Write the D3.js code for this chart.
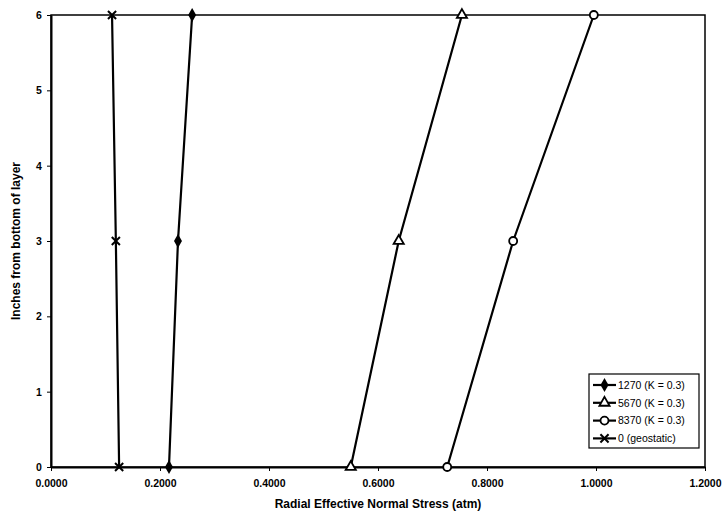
<!DOCTYPE html>
<html><head><meta charset="utf-8">
<script src="https://cdn.jsdelivr.net/npm/d3@7"></script>
<style>body{margin:0;background:#fff}text{font-family:"Liberation Sans",Arial,sans-serif;fill:#000}</style>
</head><body><svg id="c" width="725" height="518"></svg>
<script>
const depths = [0, 3, 6];
const s1270 = [0.2165, 0.233, 0.259];
const s5670 = [0.550, 0.638, 0.754];
const s8370 = [0.727, 0.848, 0.996];
const sGeo = [0.125, 0.119, 0.112];
const seriesNames = ["1270 (K = 0.3)", "5670 (K = 0.3)", "8370 (K = 0.3)", "0 (geostatic)"];
const markerTypes = ["diamond", "triangle", "circle", "x"];
const xTicks = [0, 0.2, 0.4, 0.6, 0.8, 1.0, 1.2];
const yTicks = [0, 1, 2, 3, 4, 5, 6];

const svg = d3.select("#c");
const L = 51, R = 705, T = 15, B = 467;
const x = d3.scaleLinear().domain([0, 1.2]).range([L, R]);
const y = d3.scaleLinear().domain([0, 6]).range([B, T]);

svg.append("rect").attr("x", L).attr("y", T).attr("width", R - L).attr("height", B - T)
  .attr("fill", "none").attr("stroke", "#000").attr("stroke-width", 1.5);

const xa = svg.append("g").attr("transform", `translate(0,${B})`)
  .call(d3.axisBottom(x).tickValues(xTicks).tickFormat(d3.format(".4f")).tickSize(4).tickSizeOuter(0));
xa.select(".domain").attr("stroke-width", 2);
xa.selectAll("text").attr("font-size", 10.5).style("font-weight", "bold").attr("dy", "1.25em");
const ya = svg.append("g").attr("transform", `translate(${L},0)`)
  .call(d3.axisLeft(y).tickValues(yTicks).tickFormat(d3.format("d")).tickSize(4).tickSizeOuter(0));
ya.select(".domain").attr("stroke-width", 2);
ya.selectAll("text").attr("font-size", 10.5).style("font-weight", "bold").attr("dx", "-0.2em");

svg.append("text").attr("x", x(0.6)).attr("y", 508).attr("text-anchor", "middle")
  .attr("font-size", 12).style("font-weight", "bold").text("Radial Effective Normal Stress (atm)");
svg.append("text").attr("transform", `translate(20,${y(3)}) rotate(-90)`).attr("text-anchor", "middle")
  .attr("font-size", 12).style("font-weight", "bold").text("Inches from bottom of layer");

const allSeries = [s1270, s5670, s8370, sGeo];
const line = d3.line().x(d => x(d[0])).y(d => y(d[1]));

function marker(g, type, cx, cy) {
  if (type === "diamond") {
    g.append("path").attr("d", d3.symbol(d3.symbolDiamond, 55)()).attr("transform", `translate(${cx},${cy})`)
      .attr("fill", "#000");
  } else if (type === "triangle") {
    g.append("path").attr("d", d3.symbol(d3.symbolTriangle, 45)()).attr("transform", `translate(${cx},${cy})`)
      .attr("fill", "#fff").attr("stroke", "#000").attr("stroke-width", 1.8);
  } else if (type === "circle") {
    g.append("circle").attr("cx", cx).attr("cy", cy).attr("r", 4)
      .attr("fill", "#fff").attr("stroke", "#000").attr("stroke-width", 1.8);
  } else {
    g.append("path").attr("d", d3.symbol(d3.symbolX, 45)()).attr("transform", `translate(${cx},${cy})`)
      .attr("fill", "none").attr("stroke", "#000").attr("stroke-width", 2);
  }
}

allSeries.forEach((s, i) => {
  const pts = s.map((v, j) => [v, depths[j]]);
  svg.append("path").datum(pts).attr("d", line).attr("fill", "none")
    .attr("stroke", "#000").attr("stroke-width", 2.2);
  const g = svg.append("g");
  pts.forEach(p => marker(g, markerTypes[i], x(p[0]), y(p[1])));
});

const lg = svg.append("g");
lg.append("rect").attr("x", 589).attr("y", 374).attr("width", 110).attr("height", 74)
  .attr("fill", "#fff").attr("stroke", "#000").attr("stroke-width", 1.2);
seriesNames.forEach((n, i) => {
  const yy = 385 + i * 17.8;
  lg.append("line").attr("x1", 593).attr("x2", 616).attr("y1", yy).attr("y2", yy)
    .attr("stroke", "#000").attr("stroke-width", 2.2);
  marker(lg, markerTypes[i], 604.5, yy);
  lg.append("text").attr("x", 618).attr("y", yy + 3.8).attr("font-size", 10.5).style("font-weight", "normal").text(n);
});
</script></body></html>
